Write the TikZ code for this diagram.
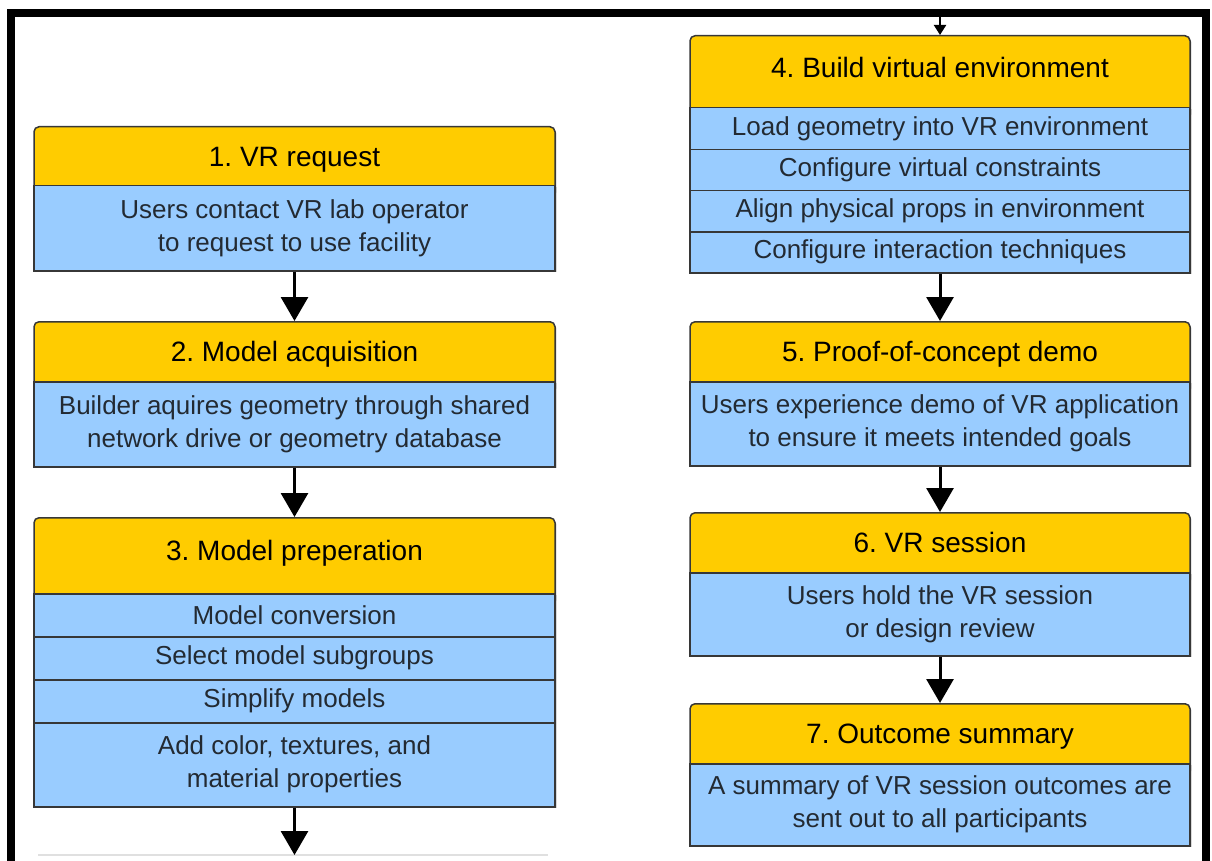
\documentclass[tikz,border=0pt]{standalone}
\usepackage{fontspec}
\setmainfont{Liberation Sans}
\usepackage{xcolor}
\usepackage{tikz}
\usetikzlibrary{arrows.meta, shadows}
\definecolor{hdr}{RGB}{255,204,0}
\definecolor{bdy}{RGB}{153,204,255}
\definecolor{edge}{RGB}{55,55,55}
\definecolor{ink}{RGB}{35,42,50}
\frenchspacing
\newcommand{\headfont}{\fontsize{28}{34}\selectfont}
\newcommand{\bodyfont}{\fontsize{26}{33}\selectfont}
\tikzstyle{head}     = [rectangle, rounded corners=5pt, anchor=north, inner sep=0pt, draw=edge, line width=1.5pt, fill=hdr, font=\headfont, text=black, drop shadow={shadow xshift=1.5pt, shadow yshift=-1.5pt, opacity=0.3}]
\tikzstyle{row}      = [rectangle, anchor=north, inner sep=0pt, draw=edge, line width=1.5pt, fill=bdy, font=\bodyfont, text=ink, drop shadow={shadow xshift=1.5pt, shadow yshift=-1.5pt, opacity=0.3}]
\tikzstyle{leftcol}  = [minimum width=521pt]
\tikzstyle{rightcol} = [minimum width=500pt]
\tikzstyle{arrow}    = [line width=3pt, -{Triangle[width=27pt, length=24pt]}]
\tikzset{every node/.style={align=center}}

\begin{document}
\begin{tikzpicture}[x=1pt, y=-1pt]
    \useasboundingbox (0,0) rectangle (1212,861);

    % left column
    \node (h1)  at (294.5,126) [head, leftcol, text height=40pt, text depth=29pt] {1. VR request};
    \node (b1)  at (294.5,185) [row, leftcol, minimum height=85pt] {Users contact VR lab operator\\to request to use facility};
    \node (h2)  at (294.5,321) [head, leftcol, text height=40pt, text depth=30pt] {2. Model acquisition};
    \node (b2)  at (294.5,381) [row, leftcol, minimum height=85pt] {Builder aquires geometry through shared\\network drive or geometry database};
    \node (h3)  at (294.5,517) [head, leftcol, text height=43pt, text depth=43pt] {3. Model preperation};
    \node (b3a) at (294.5,593) [row, leftcol, minimum height=43pt] {Model conversion};
    \node (b3b) at (294.5,636) [row, leftcol, minimum height=43pt] {Select model subgroups};
    \node (b3c) at (294.5,679) [row, leftcol, minimum height=43pt] {Simplify models};
    \node (b3d) at (294.5,722) [row, leftcol, minimum height=84pt] {Add color, textures, and\\material properties};
    \coordinate (cut) at (294.5,855);
    \draw [black!12, line width=1.5pt] (38,855) -- (548,855);

    % right column
    \coordinate (top) at (940,17);
    \node (h4)  at (940,35)  [head, rightcol, text height=42pt, text depth=40pt] {4. Build virtual environment};
    \node (b4a) at (940,107) [row, rightcol, minimum height=42pt] {Load geometry into VR environment};
    \node (b4b) at (940,149) [row, rightcol, minimum height=41pt] {Configure virtual constraints};
    \node (b4c) at (940,190) [row, rightcol, minimum height=41pt] {Align physical props in environment};
    \node (b4d) at (940,231) [row, rightcol, minimum height=41pt] {Configure interaction techniques};
    \node (h5)  at (940,321) [head, rightcol, text height=40pt, text depth=30pt] {5. Proof-of-concept demo};
    \node (b5)  at (940,381) [row, rightcol, minimum height=84pt] {Users experience demo of VR application\\to ensure it meets intended goals};
    \node (h6)  at (940,512) [head, rightcol, text height=40pt, text depth=30pt] {6. VR session};
    \node (b6)  at (940,572) [row, rightcol, minimum height=83pt] {Users hold the VR session\\or design review};
    \node (h7)  at (940,703) [head, rightcol, text height=40pt, text depth=30pt] {7. Outcome summary};
    \node (b7)  at (940,763) [row, rightcol, minimum height=82pt] {A summary of VR session outcomes are\\sent out to all participants};

    \draw [arrow] (b1)  -- (h2);
    \draw [arrow] (b2)  -- (h3);
    \draw [arrow] (b3d) -- (cut);
    \draw [line width=2pt, -{Triangle[width=12pt, length=10pt]}] (top) -- (h4);
    \draw [arrow] (b4d) -- (h5);
    \draw [arrow] (b5)  -- (h6);
    \draw [arrow] (b6)  -- (h7);

    % frame
    \draw [line width=8pt] (11,861) -- (11,13) -- (1206,13) -- (1206,861);
\end{tikzpicture}
\end{document}
